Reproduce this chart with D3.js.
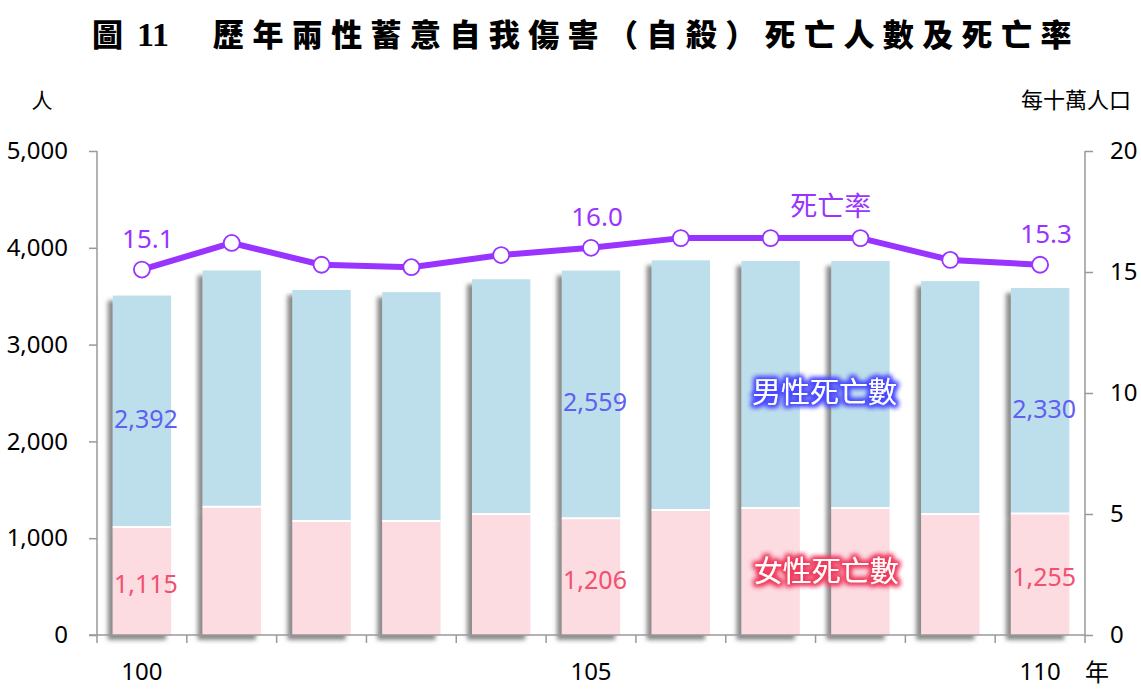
<!DOCTYPE html>
<html>
<head>
<meta charset="utf-8">
<script src="https://cdn.jsdelivr.net/npm/d3@7"></script>
<style>
  html, body { margin: 0; padding: 0; background: #fff; }
  svg { display: block; font-family: "Noto Sans", "Noto Sans CJK TC", sans-serif; }
</style>
</head>
<body>
<div id="chart"></div>
<script>
(function () {
  "use strict";

  // years (ROC calendar), counts and rates
  const YEARS = [100, 101, 102, 103, 104, 105, 106, 107, 108, 109, 110];
  const FEMALE = [1115, 1326, 1178, 1178, 1250, 1206, 1291, 1312, 1313, 1250, 1255];
  const MALE = [2392, 2440, 2387, 2364, 2425, 2559, 2580, 2553, 2551, 2406, 2330];
  const RATE = [15.1, 16.2, 15.3, 15.2, 15.7, 16.0, 16.4, 16.4, 16.4, 15.5, 15.3];
  const LABELED = [100, 105, 110];
  const X_TICK_LABELS = [100, 105, 110];
  const LEFT_TICKS = [0, 1000, 2000, 3000, 4000, 5000];
  const RIGHT_TICKS = [0, 5, 10, 15, 20];

  const width = 1141;
  const height = 689;
  const left = 97;
  const right = 1085;
  const top = 151;
  const bottom = 635;

  const purple = "#9933ff";
  const maleColor = "#bddfeb";
  const femaleColor = "#fcdbe1";
  const maleText = "#5f5ff2";
  const femaleText = "#f2506f";
  const axisColor = "#999";

  const svg = d3.select("#chart").append("svg")
    .attr("width", width)
    .attr("height", height);

  const defs = svg.append("defs");
  defs.append("filter")
    .attr("id", "shadow")
    .attr("x", "-30%").attr("y", "-10%")
    .attr("width", "160%").attr("height", "130%")
    .append("feDropShadow")
    .attr("dx", -5).attr("dy", 5)
    .attr("stdDeviation", 2.2)
    .attr("flood-color", "#666")
    .attr("flood-opacity", 0.75);

  // glow filters for the series labels
  function glow(id, color) {
    const f = defs.append("filter").attr("id", id)
      .attr("x", "-20%").attr("y", "-40%")
      .attr("width", "140%").attr("height", "180%");
    f.append("feMorphology").attr("in", "SourceAlpha").attr("operator", "dilate")
      .attr("radius", 2).attr("result", "thick");
    f.append("feGaussianBlur").attr("in", "thick").attr("stdDeviation", 2.5).attr("result", "blur");
    f.append("feFlood").attr("flood-color", color);
    f.append("feComposite").attr("in2", "blur").attr("operator", "in").attr("result", "halo");
    const m = f.append("feMerge");
    m.append("feMergeNode").attr("in", "halo");
    m.append("feMergeNode").attr("in", "halo");
    m.append("feMergeNode").attr("in", "SourceGraphic");
  }
  glow("glowBlue", "#4a4aff");
  glow("glowRed", "#f03c5f");

  // scales
  const x = d3.scaleBand()
    .domain(YEARS)
    .range([left, right])
    .paddingInner(0.35)
    .paddingOuter(0.175);
  const step = x.step();
  const cx = (d) => x(d) + x.bandwidth() / 2;
  const yL = d3.scaleLinear().domain([0, 5000]).range([bottom, top]);
  const yR = d3.scaleLinear().domain([0, 20]).range([bottom, top]);

  // title
  const title = svg.append("text")
    .attr("x", 92)
    .attr("y", 46)
    .attr("font-size", 31)
    .attr("font-weight", 900)
    .attr("fill", "#000");
  title.append("tspan")
    .attr("font-family", "'Noto Sans CJK TC', sans-serif")
    .text("圖");
  title.append("tspan")
    .attr("dx", 14)
    .attr("font-family", "'Liberation Serif', serif")
    .attr("font-weight", "bold")
    .attr("font-size", 34)
    .text("11");
  title.append("tspan")
    .attr("x", 213)
    .attr("font-family", "'Noto Sans CJK TC', sans-serif")
    .attr("font-size", 31)
    .attr("letter-spacing", 8.4)
    .text("歷年兩性蓄意自我傷害（自殺）死亡人數及死亡率");

  // units
  svg.append("text").attr("x", 42).attr("y", 108)
    .attr("text-anchor", "middle").attr("font-size", 21)
    .attr("font-family", "'Noto Sans CJK TC', sans-serif")
    .text("人");
  svg.append("text").attr("x", 1131).attr("y", 108)
    .attr("text-anchor", "end").attr("font-size", 22)
    .attr("font-family", "'Noto Sans CJK TC', sans-serif")
    .text("每十萬人口");
  svg.append("text").attr("x", 1097).attr("y", 681)
    .attr("text-anchor", "middle").attr("font-size", 24)
    .attr("font-family", "'Noto Sans CJK TC', sans-serif")
    .text("年");

  // bars with drop shadow
  const bars = svg.append("g").attr("filter", "url(#shadow)");
  const barG = bars.selectAll("g")
    .data(YEARS.map((yr, i) => ({ yr, f: FEMALE[i], m: MALE[i], r: RATE[i] })))
    .join("g");
  barG.append("rect")
    .attr("x", (d) => x(d.yr))
    .attr("width", x.bandwidth())
    .attr("y", (d) => yL(d.f + d.m))
    .attr("height", (d) => yL(d.f) - yL(d.f + d.m))
    .attr("fill", maleColor);
  barG.append("rect")
    .attr("x", (d) => x(d.yr))
    .attr("width", x.bandwidth())
    .attr("y", (d) => yL(d.f))
    .attr("height", (d) => yL(0) - yL(d.f))
    .attr("fill", femaleColor);
  // white divider between the segments
  svg.append("g").selectAll("line")
    .data(YEARS.map((yr, i) => ({ yr, f: FEMALE[i] })))
    .join("line")
    .attr("x1", (d) => x(d.yr))
    .attr("x2", (d) => x(d.yr) + x.bandwidth())
    .attr("y1", (d) => yL(d.f))
    .attr("y2", (d) => yL(d.f))
    .attr("stroke", "#fff")
    .attr("stroke-width", 2);

  // axes
  const axL = svg.append("g").attr("transform", `translate(${left},0)`)
    .call(d3.axisLeft(yL).tickValues(LEFT_TICKS).tickSize(8).tickPadding(21).tickFormat(d3.format(",")));
  const axR = svg.append("g").attr("transform", `translate(${right},0)`)
    .call(d3.axisRight(yR).tickValues(RIGHT_TICKS).tickSize(8).tickPadding(17));
  [axL, axR].forEach((ax) => {
    ax.select(".domain").attr("stroke", axisColor).attr("stroke-width", 1.5);
    ax.selectAll(".tick line").attr("stroke", axisColor).attr("stroke-width", 1.5);
    ax.selectAll(".tick text")
      .attr("font-size", 24)
      .attr("fill", "#000")
      .attr("font-family", "'Noto Sans', sans-serif");
  });
  axL.select(".domain").attr("d", `M0,${top}V${bottom}`);
  axR.select(".domain").attr("d", `M0,${top}V${bottom + 8}`);

  // x axis: baseline and category boundary ticks
  svg.append("line")
    .attr("x1", left - 8).attr("x2", right)
    .attr("y1", bottom).attr("y2", bottom)
    .attr("stroke", axisColor).attr("stroke-width", 1.5);
  svg.append("g").selectAll("line")
    .data(YEARS)
    .join("line")
    .attr("x1", (d) => x(d) - (step - x.bandwidth()) / 2)
    .attr("x2", (d) => x(d) - (step - x.bandwidth()) / 2)
    .attr("y1", bottom).attr("y2", bottom + 8)
    .attr("stroke", axisColor).attr("stroke-width", 1.5);
  svg.append("g").selectAll("text")
    .data(X_TICK_LABELS)
    .join("text")
    .attr("x", (d) => cx(d))
    .attr("y", 680)
    .attr("text-anchor", "middle")
    .attr("font-size", 24)
    .text((d) => d);

  // rate line
  const line = d3.line()
    .x((d, i) => cx(YEARS[i]))
    .y((d) => yR(d));
  svg.append("path")
    .attr("d", line(RATE))
    .attr("fill", "none")
    .attr("stroke", purple)
    .attr("stroke-width", 6)
    .attr("stroke-linejoin", "round");
  svg.append("g").selectAll("circle")
    .data(RATE)
    .join("circle")
    .attr("cx", (d, i) => cx(YEARS[i]))
    .attr("cy", (d) => yR(d))
    .attr("r", 8)
    .attr("fill", "#fff")
    .attr("stroke", purple)
    .attr("stroke-width", 1.8);

  // value labels
  const lab = svg.append("g")
    .attr("font-size", 25)
    .attr("text-anchor", "middle")
    .attr("dominant-baseline", "central");
  LABELED.forEach((yr) => {
    const i = YEARS.indexOf(yr);
    lab.append("text")
      .attr("x", cx(yr) + 4)
      .attr("y", yL(FEMALE[i] + MALE[i] / 2) + 7)
      .attr("fill", maleText)
      .text(d3.format(",")(MALE[i]));
    lab.append("text")
      .attr("x", cx(yr) + 4)
      .attr("y", yL(FEMALE[i] / 2) + 2)
      .attr("fill", femaleText)
      .text(d3.format(",")(FEMALE[i]));
    lab.append("text")
      .attr("x", cx(yr) + 6)
      .attr("y", yR(RATE[i]) - 32)
      .attr("font-size", 26)
      .attr("fill", purple)
      .text(d3.format(".1f")(RATE[i]));
  });

  // series names
  svg.append("text")
    .attr("x", cx(107) + step * 0.67)
    .attr("y", yR(17.8))
    .attr("text-anchor", "middle")
    .attr("dominant-baseline", "central")
    .attr("font-size", 27)
    .attr("font-family", "'Noto Sans CJK TC', sans-serif")
    .attr("fill", purple)
    .text("死亡率");
  svg.append("text")
    .attr("x", cx(107) + step * 0.6)
    .attr("y", yL(2530))
    .attr("text-anchor", "middle")
    .attr("dominant-baseline", "central")
    .attr("font-size", 29)
    .attr("font-family", "'Noto Sans CJK TC', sans-serif")
    .attr("fill", "#fff")
    .attr("filter", "url(#glowBlue)")
    .text("男性死亡數");
  svg.append("text")
    .attr("x", cx(107) + step * 0.62)
    .attr("y", yL(680))
    .attr("text-anchor", "middle")
    .attr("dominant-baseline", "central")
    .attr("font-size", 29)
    .attr("font-family", "'Noto Sans CJK TC', sans-serif")
    .attr("fill", "#fff")
    .attr("filter", "url(#glowRed)")
    .text("女性死亡數");
})();
</script>
</body>
</html>
